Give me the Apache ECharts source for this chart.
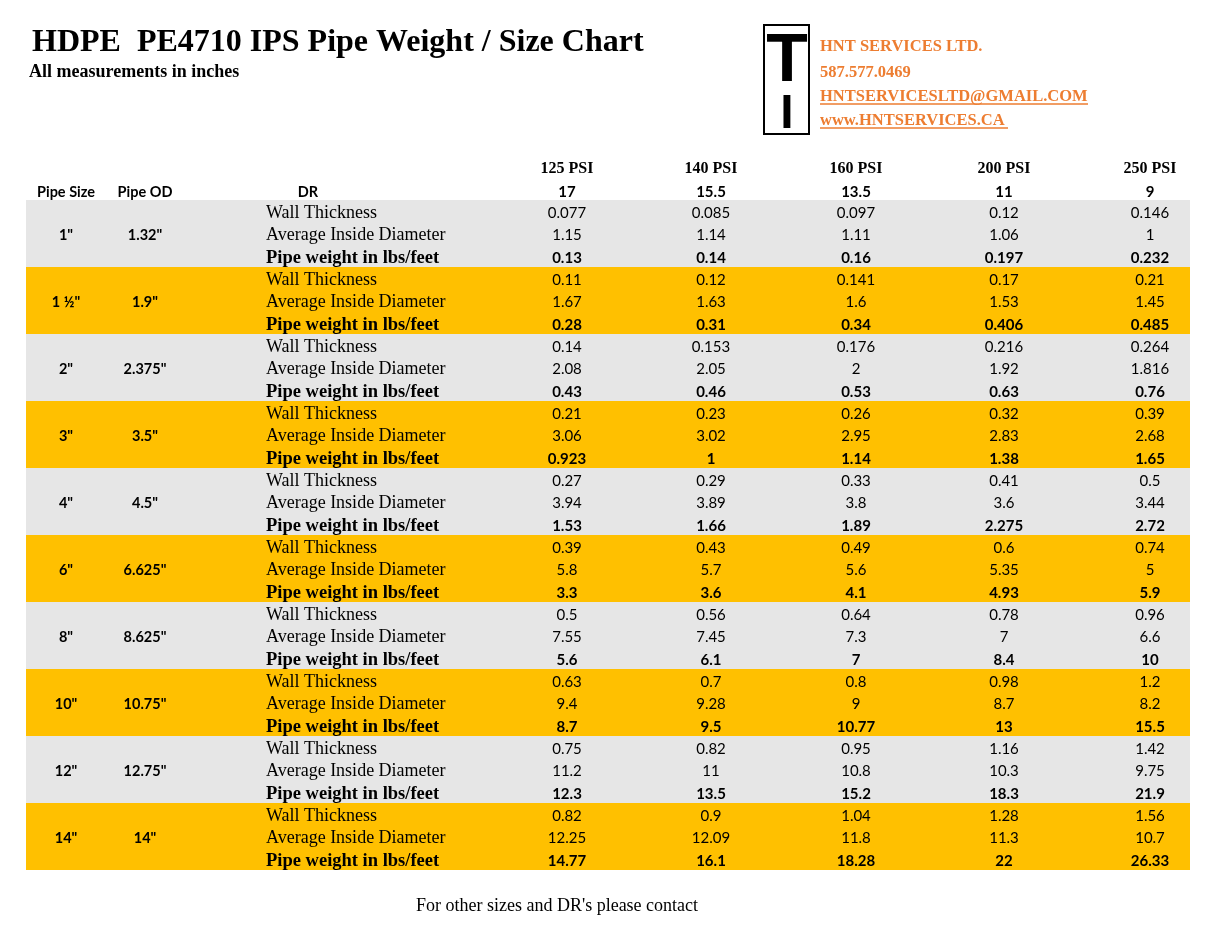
<!DOCTYPE html>
<html><head><meta charset="utf-8">
<script src="https://cdn.jsdelivr.net/npm/echarts@6/dist/echarts.min.js"></script>
<style>html,body{margin:0;padding:0;background:#fff}#c{width:1215px;height:938px}</style>
</head><body><div id="c"></div>
<script>
// ---------- data ----------
const pipeSizes = ['1"', '1 ½"', '2"', '3"', '4"', '6"', '8"', '10"', '12"', '14"'];
const pipeOD = ['1.32"', '1.9"', '2.375"', '3.5"', '4.5"', '6.625"', '8.625"', '10.75"', '12.75"', '14"'];
const psiRatings = ['125 PSI', '140 PSI', '160 PSI', '200 PSI', '250 PSI'];
const drValues = ['17', '15.5', '13.5', '11', '9'];
const rowLabels = ['Wall Thickness', 'Average Inside Diameter', 'Pipe weight in lbs/feet'];
const wallThickness = [
  [0.077, 0.085, 0.097, 0.12, 0.146],
  [0.11, 0.12, 0.141, 0.17, 0.21],
  [0.14, 0.153, 0.176, 0.216, 0.264],
  [0.21, 0.23, 0.26, 0.32, 0.39],
  [0.27, 0.29, 0.33, 0.41, 0.5],
  [0.39, 0.43, 0.49, 0.6, 0.74],
  [0.5, 0.56, 0.64, 0.78, 0.96],
  [0.63, 0.7, 0.8, 0.98, 1.2],
  [0.75, 0.82, 0.95, 1.16, 1.42],
  [0.82, 0.9, 1.04, 1.28, 1.56]
];
const avgInsideDiameter = [
  [1.15, 1.14, 1.11, 1.06, 1],
  [1.67, 1.63, 1.6, 1.53, 1.45],
  [2.08, 2.05, 2, 1.92, 1.816],
  [3.06, 3.02, 2.95, 2.83, 2.68],
  [3.94, 3.89, 3.8, 3.6, 3.44],
  [5.8, 5.7, 5.6, 5.35, 5],
  [7.55, 7.45, 7.3, 7, 6.6],
  [9.4, 9.28, 9, 8.7, 8.2],
  [11.2, 11, 10.8, 10.3, 9.75],
  [12.25, 12.09, 11.8, 11.3, 10.7]
];
const pipeWeight = [
  [0.13, 0.14, 0.16, 0.197, 0.232],
  [0.28, 0.31, 0.34, 0.406, 0.485],
  [0.43, 0.46, 0.53, 0.63, 0.76],
  [0.923, 1, 1.14, 1.38, 1.65],
  [1.53, 1.66, 1.89, 2.275, 2.72],
  [3.3, 3.6, 4.1, 4.93, 5.9],
  [5.6, 6.1, 7, 8.4, 10],
  [8.7, 9.5, 10.77, 13, 15.5],
  [12.3, 13.5, 15.2, 18.3, 21.9],
  [14.77, 16.1, 18.28, 22, 26.33]
];
const titleText = 'HDPE  PE4710 IPS Pipe Weight / Size Chart';
const subtitleText = 'All measurements in inches';
const companyLines = ['HNT SERVICES LTD.', '587.577.0469', 'HNTSERVICESLTD@GMAIL.COM', 'www.HNTSERVICES.CA'];
const footerText = "For other sizes and DR's please contact";

// ---------- layout / style ----------
const SERIF = '"Liberation Serif","DejaVu Serif",serif';
const SANS = 'Lato,"Liberation Sans",sans-serif';
const GRAY = '#e6e6e6', YELLOW = '#ffc000', ORANGE = '#ed7d31';
const TABLE_W = 1164;
const X_SIZE = 40, X_OD = 119, X_LABEL = 240, X_DR = 282;
const X_VALS = [541, 685, 830, 978, 1124];
const TEXT_DY = 2; // small vertical nudge for text baselines
const FONTS = {
  psi: 'bold 16px ' + SERIF,
  hdr: 'bold 14.5px ' + SANS,
  dr: 'bold 15px ' + SANS,
  size: 'bold 14.5px ' + SANS,
  label: '18px ' + SERIF,
  labelB: 'bold 18.5px ' + SERIF,
  num: '15px ' + SANS,
  numB: 'bold 15px ' + SANS
};

const cells = [];
psiRatings.forEach((p, j) => cells.push({x: X_VALS[j], y: -1.48, t: p, f: 'psi', a: 'center'}));
drValues.forEach((d, j) => cells.push({x: X_VALS[j], y: -0.45, t: d, f: 'dr', a: 'center'}));
cells.push({x: X_SIZE, y: -0.45, t: 'Pipe Size', f: 'hdr', a: 'center'});
cells.push({x: X_OD, y: -0.45, t: 'Pipe OD', f: 'hdr', a: 'center'});
cells.push({x: X_DR, y: -0.45, t: 'DR', f: 'hdr', a: 'center'});
const tables = [wallThickness, avgInsideDiameter, pipeWeight];
pipeSizes.forEach((s, b) => {
  cells.push({x: X_SIZE, y: b * 3 + 1.5, t: s, f: 'size', a: 'center'});
  cells.push({x: X_OD, y: b * 3 + 1.5, t: pipeOD[b], f: 'size', a: 'center'});
  rowLabels.forEach((lab, r) => {
    const y = b * 3 + r + 0.5;
    cells.push({x: X_LABEL, y, t: lab, f: r === 2 ? 'labelB' : 'label', a: 'left'});
    tables[r][b].forEach((v, j) => cells.push({x: X_VALS[j], y, t: String(v), f: r === 2 ? 'numB' : 'num', a: 'center'}));
  });
});

const chart = echarts.init(document.getElementById('c'));
chart.setOption({
  animation: false,
  backgroundColor: '#fff',
  grid: {left: 26, right: 25, top: 155.33, bottom: 68},
  xAxis: {type: 'value', min: 0, max: TABLE_W, show: false},
  yAxis: {type: 'value', min: -2, max: 30, inverse: true, show: false},
  series: [
    {
      type: 'custom',
      data: pipeSizes.map((s, b) => [b]),
      renderItem: (params, api) => {
        const b = api.value(0);
        const p0 = api.coord([0, b * 3]);
        const p1 = api.coord([TABLE_W, b * 3 + 3]);
        return {type: 'rect', shape: {x: p0[0], y: p0[1], width: p1[0] - p0[0], height: p1[1] - p0[1]},
          style: {fill: b % 2 ? YELLOW : GRAY}};
      },
      z: 1
    },
    {
      type: 'custom',
      data: cells.map(c => [c.x, c.y]),
      renderItem: (params, api) => {
        const c = cells[params.dataIndex];
        const p = api.coord([api.value(0), api.value(1)]);
        return {type: 'text', x: p[0], y: p[1] + TEXT_DY,
          style: {text: c.t, font: FONTS[c.f], fill: '#000', align: c.a, verticalAlign: 'middle'}};
      },
      z: 2
    }
  ],
  graphic: [
    {type: 'text', x: 32, y: 43, style: {text: titleText, font: 'bold 32px ' + SERIF, fill: '#000', verticalAlign: 'middle'}},
    {type: 'text', x: 29, y: 72, style: {text: subtitleText, font: 'bold 18px ' + SERIF, fill: '#000', verticalAlign: 'middle'}},
    {type: 'rect', shape: {x: 764, y: 25, width: 45, height: 109}, style: {fill: '#fff', stroke: '#000', lineWidth: 2}},
    {type: 'text', x: 787, y: 62, style: {text: 'T', font: 'bold 68px "Liberation Sans",sans-serif', fill: '#000', align: 'center', verticalAlign: 'middle'}},
    {type: 'text', x: 787, y: 115, style: {text: 'I', font: 'bold 48px "Liberation Sans",sans-serif', fill: '#000', align: 'center', verticalAlign: 'middle'}},
    {type: 'text', x: 820, y: 46.5, style: {text: companyLines[0], font: 'bold 16.5px ' + SERIF, fill: ORANGE, verticalAlign: 'middle'}},
    {type: 'text', x: 820, y: 73, style: {text: companyLines[1], font: 'bold 16.5px ' + SERIF, fill: ORANGE, verticalAlign: 'middle'}},
    {type: 'text', x: 820, y: 96.5, style: {text: companyLines[2], font: 'bold 16.5px ' + SERIF, fill: ORANGE, verticalAlign: 'middle'}},
    {type: 'text', x: 820, y: 120.5, style: {text: companyLines[3], font: 'bold 16.5px ' + SERIF, fill: ORANGE, verticalAlign: 'middle'}},
    {type: 'line', shape: {x1: 820, y1: 104, x2: 1088, y2: 104}, style: {stroke: ORANGE, lineWidth: 1.5}},
    {type: 'line', shape: {x1: 820, y1: 128, x2: 1008, y2: 128}, style: {stroke: ORANGE, lineWidth: 1.5}},
    {type: 'text', x: 557, y: 906, style: {text: footerText, font: '18px ' + SERIF, fill: '#000', align: 'center', verticalAlign: 'middle'}}
  ]
});
</script></body></html>
